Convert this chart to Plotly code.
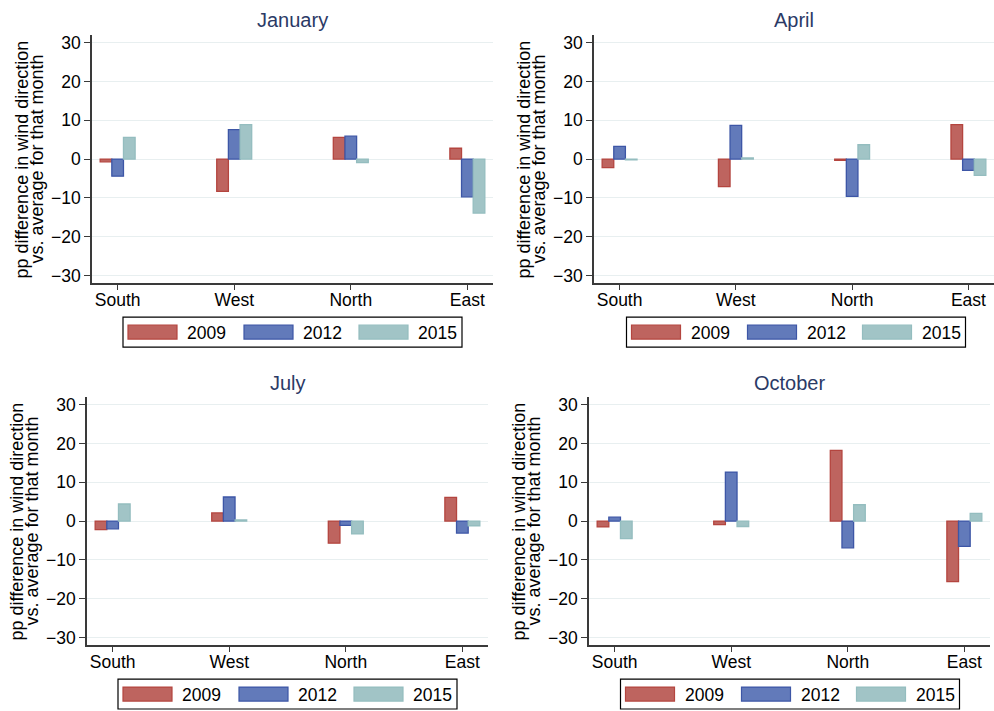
import plotly.graph_objects as go

directions = ["South", "West", "North", "East"]
months = ["January", "April", "July", "October"]
years = ["2009", "2012", "2015"]

# pp difference vs. month average, per month, per year (order: South, West, North, East)
jan_2009 = [-0.7, -8.3, 5.6, 2.8]
jan_2012 = [-4.4, 7.6, 5.9, -9.7]
jan_2015 = [5.6, 8.9, -0.9, -13.9]

apr_2009 = [-2.2, -7.1, -0.3, 8.9]
apr_2012 = [3.3, 8.7, -9.6, -2.9]
apr_2015 = [-0.2, 0.3, 3.7, -4.2]

jul_2009 = [-2.2, 2.1, -5.7, 6.1]
jul_2012 = [-2.0, 6.2, -1.1, -3.1]
jul_2015 = [4.4, 0.3, -3.3, -1.2]

oct_2009 = [-1.5, -0.9, 18.2, -15.6]
oct_2012 = [1.0, 12.6, -6.9, -6.5]
oct_2015 = [-4.5, -1.4, 4.2, 2.0]

y_ticks = [-30, -20, -10, 0, 10, 20, 30]

data = {
    "January": [jan_2009, jan_2012, jan_2015],
    "April": [apr_2009, apr_2012, apr_2015],
    "July": [jul_2009, jul_2012, jul_2015],
    "October": [oct_2009, oct_2012, oct_2015],
}

W, H = 994, 711
FONT = "Liberation Sans, Arial, sans-serif"
fills = ["#BE645F", "#627ABA", "#A1C4C6"]
lines = ["#B4453F", "#3D56A6", "#94BDBF"]

# panel geometry in pixels: (x_left, x_right, y_top, y_bottom)
panels = [
    (92, 493, 33, 283),
    (594, 994, 33, 283),
    (87, 488, 397, 647),
    (589, 990, 397, 647),
]
title_y = [18, 18, 383, 383]
legend_centers = [292.5, 796, 287.5, 790]
legend_tops = [317, 317, 681, 681]

fig = go.Figure()
layout = dict(
    width=W, height=H,
    margin=dict(l=0, r=0, t=0, b=0),
    paper_bgcolor="white", plot_bgcolor="white",
    barmode="group", bargap=0.7, bargroupgap=0.0,
    showlegend=False,
    font=dict(family=FONT, size=17, color="black"),
)
annotations = []
shapes = []

for i, month in enumerate(months):
    n = "" if i == 0 else str(i + 1)
    xl, xr, yt, yb = panels[i]
    for j, yr in enumerate(years):
        fig.add_trace(go.Bar(
            x=directions, y=data[month][j], name=yr,
            xaxis="x" + n, yaxis="y" + n,
            marker=dict(color=fills[j], line=dict(color=lines[j], width=1.3)),
            offsetgroup=yr,
        ))
    layout["xaxis" + n] = dict(
        domain=[xl / W, min(xr / W, 1.0)], anchor="y" + n,
        range=[-0.22, 3.22], showgrid=False, zeroline=False,
        showline=True, linecolor="#3a3a3a", linewidth=1.5,
        ticks="outside", ticklen=5, tickcolor="#3a3a3a",
        ticklabelstandoff=-5,
        tickfont=dict(family=FONT, size=17.5, color="black"),
        fixedrange=True,
    )
    layout["yaxis" + n] = dict(
        domain=[1 - yb / H, 1 - yt / H], anchor="x" + n,
        range=[-32, 32], tickvals=y_ticks,
        showgrid=True, gridcolor="#e8eff0", gridwidth=1, zeroline=False,
        showline=True, linecolor="#3a3a3a", linewidth=1.5,
        ticks="outside", ticklen=6, tickcolor="#3a3a3a",
        tickfont=dict(family=FONT, size=17.5, color="black"),
        fixedrange=True,
    )
    # panel title
    annotations.append(dict(
        text=month, xref="paper", yref="paper",
        x=((xl + xr) / 2) / W, y=1 - title_y[i] / H,
        xanchor="center", yanchor="middle", showarrow=False,
        font=dict(family=FONT, size=20, color="#2b3a66"),
    ))
    # y axis title (two lines)
    ymid = (yt + yb) / 2 + 0.5
    for k, txt in enumerate(["pp difference in wind direction", "vs. average for that month"]):
        annotations.append(dict(
            text=txt, xref="paper", yref="paper",
            x=(xl - 70 + 15 * k) / W, y=1 - ymid / H,
            xanchor="center", yanchor="middle", textangle=-90, showarrow=False,
            font=dict(family=FONT, size=18, color="black"),
        ))
    # legend box
    bl = legend_centers[i] - 169.5
    bt = legend_tops[i]
    shapes.append(dict(
        type="rect", xref="paper", yref="paper",
        x0=bl / W, x1=(bl + 339) / W, y0=1 - (bt + 30) / H, y1=1 - bt / H,
        line=dict(color="black", width=1.2), fillcolor="white",
    ))
    sw_off = [5, 121, 236]
    for j, yr in enumerate(years):
        sx = bl + sw_off[j]
        shapes.append(dict(
            type="rect", xref="paper", yref="paper",
            x0=sx / W, x1=(sx + 49) / W, y0=1 - (bt + 22) / H, y1=1 - (bt + 8) / H,
            line=dict(color=lines[j], width=1.2), fillcolor=fills[j],
        ))
        annotations.append(dict(
            text=yr, xref="paper", yref="paper",
            x=(sx + 57) / W, y=1 - (bt + 15.5) / H,
            xanchor="left", yanchor="middle", showarrow=False,
            font=dict(family=FONT, size=17.5, color="black"),
        ))

layout["annotations"] = annotations
layout["shapes"] = shapes
fig.update_layout(**layout)
fig.write_html(
    "out.html",
    config={"displayModeBar": False},
    post_script="document.body.style.margin='0';document.body.style.overflow='hidden';",
)
